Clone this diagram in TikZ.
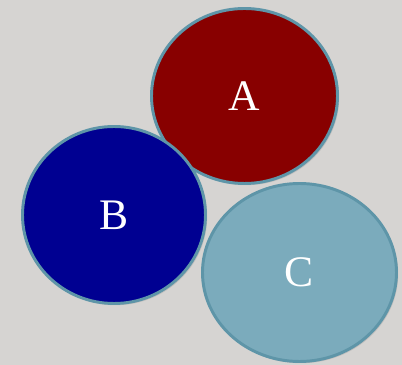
\documentclass[tikz,border=0pt]{standalone}
\usepackage{fontspec}
\setmainfont{Liberation Serif}
\definecolor{bggrey}{RGB}{214,212,210}
\definecolor{darkred}{RGB}{136,0,0}
\definecolor{deepblue}{RGB}{0,0,145}
\definecolor{paleblue}{RGB}{123,171,188}
\definecolor{rimblue}{RGB}{94,149,168}
\usepackage{tikz}
\usetikzlibrary{shapes.geometric, shadows}

\begin{document}
\begin{tikzpicture}[x=0.025cm, y=-0.025cm,
                blob/.style={ellipse, draw=rimblue, line width=2.1pt, inner sep=0pt,
                             text=white, font=\fontsize{31}{31}\selectfont,
                             drop shadow={opacity=0.25, shadow xshift=1.2pt, shadow yshift=-1.2pt}}
            ]
                \fill[bggrey] (0,0) rectangle (402,365);
                \useasboundingbox (0,0) rectangle (402,365);

                \node[blob, fill=darkred, minimum width=186*0.025cm, minimum height=175*0.025cm]
                    (a) at (244.5,96) {A};
                \node[blob, fill=paleblue, minimum width=194*0.025cm, minimum height=178*0.025cm]
                    (c) at (299.5,272.5) {C};
                \node[blob, fill=deepblue, minimum width=183*0.025cm, minimum height=177*0.025cm]
                    (b) at (114,215) {B};
            \end{tikzpicture}
\end{document}
